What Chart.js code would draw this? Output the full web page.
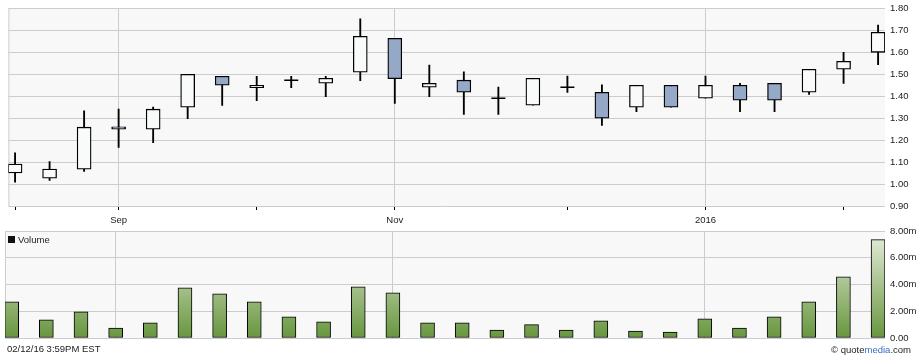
<!DOCTYPE html>
<html><head><meta charset="utf-8">
<script src="https://cdn.jsdelivr.net/npm/chart.js@4/dist/chart.umd.min.js"></script>
<style>
html,body{margin:0;padding:0;background:#fff;}
#wrap{position:relative;width:920px;height:358px;overflow:hidden;font-family:"Liberation Sans",Arial,sans-serif;}
#c1{position:absolute;left:0;top:0;}
#c2{position:absolute;left:0;top:225px;}
.txt{position:absolute;font-size:9.5px;line-height:11px;color:#222;white-space:nowrap;}
</style></head><body>
<div id="wrap">
<canvas id="c1" width="920" height="225"></canvas>
<canvas id="c2" width="920" height="133"></canvas>
<div class="txt" style="left:8px;top:233.5px;"><span style="display:inline-block;width:7px;height:7px;background:#111;margin-right:3px;vertical-align:-0.5px;"></span>Volume</div>
<div class="txt" style="left:7px;top:343px;">02/12/16 3:59PM EST</div>
<div class="txt" style="right:9px;top:343.5px;">© quote<span style="color:#3a6bc4">media</span>.com</div>
</div>
<script>
// ---- data ----
const weeks = ['2015-08-17','2015-08-24','2015-08-31','2015-09-07','2015-09-14','2015-09-21','2015-09-28',
  '2015-10-05','2015-10-12','2015-10-19','2015-10-26','2015-11-02','2015-11-09','2015-11-16','2015-11-23',
  '2015-11-30','2015-12-07','2015-12-14','2015-12-21','2015-12-28','2016-01-04','2016-01-11','2016-01-18',
  '2016-01-25','2016-02-01','2016-02-08'];
const openP  = [1.051,1.027,1.068,1.261,1.250,1.350,1.491,1.439,1.473,1.459,1.509,1.664,1.441,1.473,1.391,1.359,1.441,1.418,1.350,1.450,1.391,1.450,1.459,1.418,1.523,1.600];
const closeP = [1.091,1.068,1.259,1.250,1.341,1.500,1.450,1.450,1.473,1.482,1.673,1.480,1.459,1.418,1.391,1.482,1.441,1.300,1.450,1.350,1.450,1.382,1.382,1.523,1.559,1.691];
const highP  = [1.142,1.102,1.333,1.342,1.350,1.500,1.491,1.491,1.491,1.491,1.752,1.664,1.542,1.511,1.442,1.482,1.492,1.452,1.450,1.450,1.492,1.459,1.459,1.523,1.600,1.724];
const lowP   = [1.008,1.017,1.058,1.167,1.189,1.298,1.358,1.380,1.439,1.398,1.471,1.367,1.398,1.317,1.317,1.359,1.417,1.267,1.330,1.350,1.391,1.330,1.330,1.408,1.458,1.544];
const volumeM = [2.70,1.35,1.95,0.75,1.125,3.75,3.30,2.70,1.575,1.20,3.825,3.375,1.125,1.125,0.60,1.00,0.60,1.275,0.525,0.45,1.425,0.75,1.575,2.70,4.575,7.35];
const monthTickIdx = [0,3,7,11,16,20,24];
const monthTickLabels = ['','Sep','','Nov','','2016',''];
const priceTicks = [0.9,1.0,1.1,1.2,1.3,1.4,1.5,1.6,1.7,1.8];
const volumeTicks = [0,2,4,6,8];

// ---- helpers ----
const FONT = {family:'"Liberation Sans", Arial, sans-serif', size:9.5};
const TXT = '#222';
const idx = weeks.map((_, i) => i);
const frame = {
  id:'frame',
  beforeDraw(chart){
    const {ctx, chartArea:a} = chart;
    ctx.save();
    ctx.fillStyle = '#f8f8f8';
    ctx.fillRect(a.left, a.top, a.right - a.left, a.bottom - a.top);
    ctx.strokeStyle = '#cccccc'; ctx.lineWidth = 1;
    ctx.beginPath(); ctx.moveTo(a.left + 0.5, a.top); ctx.lineTo(a.left + 0.5, a.bottom); ctx.stroke();
    ctx.restore();
  }
};
function labelOf(v){ const k = monthTickIdx.indexOf(v); return k < 0 ? '' : monthTickLabels[k]; }
function xScale(showTicks){
  return {
    type:'linear', min:-0.193, max:25.2, offset:false,
    afterBuildTicks: s => { s.ticks = monthTickIdx.map(v => ({value:v})); },
    ticks:{display:showTicks, autoSkip:false, maxRotation:0, padding:5, font:FONT, color:TXT, callback:v => labelOf(v)},
    grid:{
      offset:false,
      color: c => (c.tick && labelOf(c.tick.value) !== '') ? '#cccccc' : 'rgba(0,0,0,0)',
      tickColor:'#000', tickLength:4, drawTicks:showTicks, lineWidth:1
    },
    border:{display:false},
    afterFit: s => { s.height = showTicks ? 19 : 0; }
  };
}
function yScale(min, max, ticks, fmt){
  return {
    position:'right', min, max,
    afterBuildTicks: s => { s.ticks = ticks.map(v => ({value:v})); },
    ticks:{padding:0, font:FONT, color:TXT, callback:v => fmt(v)},
    grid:{color:'#cccccc', drawTicks:true, tickLength:5, tickColor:'rgba(0,0,0,0)', lineWidth:1},
    border:{display:false},
    afterFit: s => { s.width = 35; }
  };
}
const common = {responsive:false, animation:false, events:[],
  plugins:{legend:{display:false}, tooltip:{enabled:false}}};

// ---- price chart ----
new Chart(document.getElementById('c1'), {
  type:'bar',
  data:{datasets:[
    {type:'bar', order:3, grouped:false, barThickness:1.2, backgroundColor:'#000', borderWidth:0,
     data: idx.map(i => ({x:i, y:[lowP[i], highP[i]]}))},
    {type:'bar', order:2, grouped:false, barThickness:14, borderWidth:1.3, borderColor:'#000', borderSkipped:false,
     backgroundColor: c => { const i = c.dataIndex; return closeP[i] >= openP[i] ? '#f9fbfb' : '#96a8c8'; },
     data: idx.map(i => ({x:i, y: openP[i] === closeP[i] ? null : [openP[i], closeP[i]]}))},
    {type:'line', order:1, showLine:false, pointStyle:'line', pointRadius:7, borderColor:'#000', pointBorderWidth:1.4,
     data: idx.filter(i => openP[i] === closeP[i]).map(i => ({x:i, y:openP[i]}))}
  ]},
  options:Object.assign({}, common, {
    layout:{padding:{top:8, left:5, right:0, bottom:0}},
    scales:{x:xScale(true), y:yScale(0.9, 1.8, priceTicks, v => v.toFixed(2))}
  }),
  plugins:[frame]
});

// ---- volume chart ----
new Chart(document.getElementById('c2'), {
  type:'bar',
  data:{datasets:[{
    barThickness:14, borderWidth:1, borderColor:'#000', borderSkipped:false,
    backgroundColor: c => {
      const a = c.chart.chartArea; if (!a) return '#7aa050';
      const g = c.chart.ctx.createLinearGradient(0, a.top, 0, a.bottom);
      g.addColorStop(0, '#e8efe0'); g.addColorStop(1, '#68963f'); return g;
    },
    data: idx.map(i => ({x:i, y:volumeM[i]}))
  }]},
  options:Object.assign({}, common, {
    layout:{padding:{top:6, left:5, right:0, bottom:20}},
    scales:{x:xScale(false), y:yScale(0, 8, volumeTicks, v => v === 0 ? '0.00' : v.toFixed(2) + 'm')}
  }),
  plugins:[frame]
});
</script>
</body></html>
